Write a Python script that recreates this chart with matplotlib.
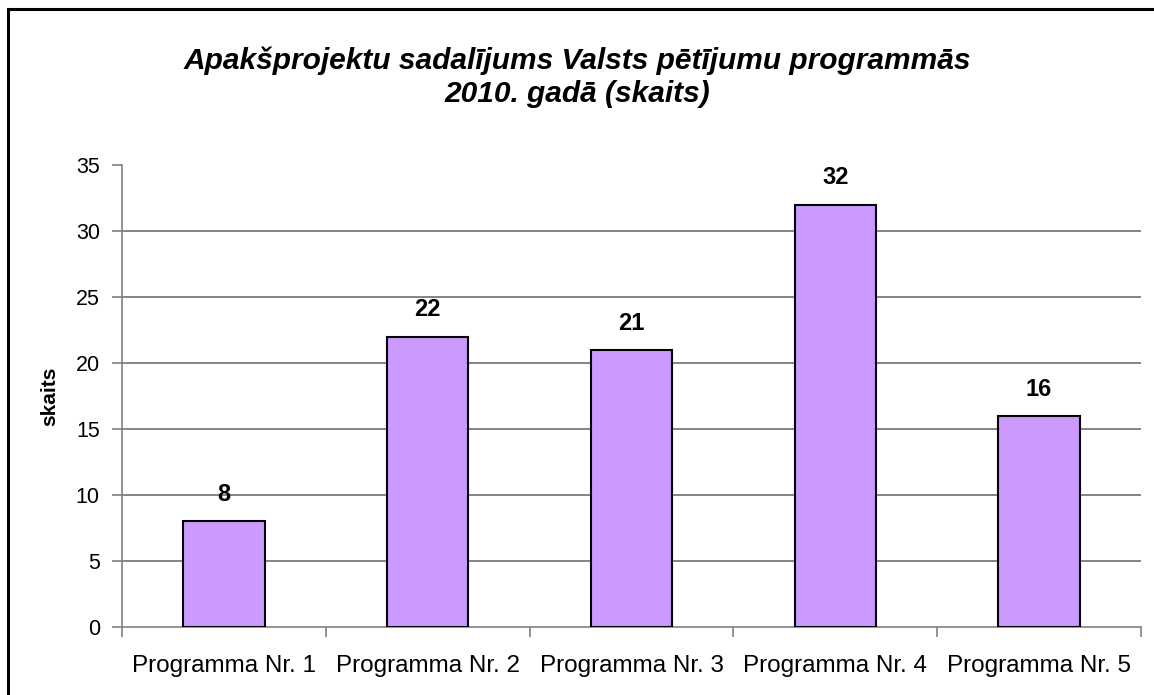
import matplotlib.pyplot as plt
from matplotlib.patches import Rectangle

plt.rcParams['font.family'] = ['Liberation Sans', 'DejaVu Sans']

# dati
programmas = ['Programma Nr. 1', 'Programma Nr. 2', 'Programma Nr. 3',
              'Programma Nr. 4', 'Programma Nr. 5']
skaits = [8, 22, 21, 32, 16]
y_ticks = [0, 5, 10, 15, 20, 25, 30, 35]

fig = plt.figure(figsize=(11.54, 6.95), dpi=100)
# ramis ap diagrammu (labā un apakšējā mala ārpus attēla)
fig.patches.append(Rectangle((7.5 / 1154, -0.1), 1.2, 1.1 - 9.5 / 695,
                             transform=fig.transFigure, fill=False,
                             edgecolor='black', linewidth=2.2))

ax = fig.add_axes([122 / 1154, 68 / 695, 1019 / 1154, 462 / 695])
x = list(range(len(programmas)))
ax.bar(x, skaits, width=0.4, color='#CC99FF', edgecolor='black', linewidth=1.5, zorder=3)

for xi, v in zip(x, skaits):
    ax.annotate(str(v), (xi, v), xytext=(0, 11), textcoords='offset points',
                ha='center', va='bottom', fontsize=17, fontweight='bold')

ax.set_xlim(-0.5, len(programmas) - 0.5)
ax.set_ylim(0, 35)
ax.set_yticks(y_ticks)
ax.set_xticks([i - 0.5 for i in range(len(programmas) + 1)])
ax.set_xticklabels([])
ax.set_xticks(x, minor=True)
ax.set_xticklabels(programmas, minor=True)
ax.tick_params(axis='x', which='minor', length=0, pad=20, labelsize=17.5)
ax.tick_params(axis='x', which='major', length=7, color='#808080', width=1.2)
ax.tick_params(axis='y', length=7, color='#808080', width=1.2, labelsize=15.5, pad=9)

# režģa līnijas bez augšējās (35)
for yv in y_ticks[1:-1]:
    ax.axhline(yv, color='#707070', linewidth=1.2, zorder=0)

for s in ['top', 'right']:
    ax.spines[s].set_visible(False)
for s in ['left', 'bottom']:
    ax.spines[s].set_color('#808080')
    ax.spines[s].set_linewidth(1.2)

ax.set_ylabel('skaits', fontsize=15, fontweight='bold', labelpad=12)

fig.text(0.5, 1 - 77 / 695, 'Apakšprojektu sadalījums Valsts pētījumu programmās\n2010. gadā (skaits)',
         ha='center', va='center', fontsize=21.5, fontweight='bold', fontstyle='italic',
         linespacing=1.22)

plt.savefig('out.png', dpi=100)
